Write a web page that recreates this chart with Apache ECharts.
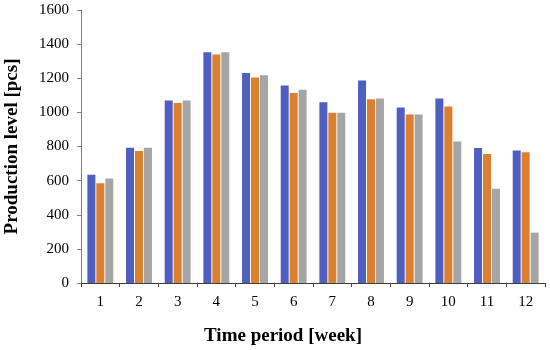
<!DOCTYPE html>
<html><head><meta charset="utf-8">
<script src="https://cdn.jsdelivr.net/npm/echarts@6/dist/echarts.min.js"></script>
<style>html,body{margin:0;padding:0;background:#fff}#c{width:550px;height:350px}</style>
</head><body><div id="c"></div>
<script>
const weeks = ['1','2','3','4','5','6','7','8','9','10','11','12'];
const seriesA = [635, 793, 1069, 1352, 1231, 1157, 1059, 1187, 1028, 1081, 791, 776];
const seriesB = [585, 774, 1055, 1339, 1204, 1114, 998, 1077, 987, 1035, 756, 766];
const seriesC = [612, 792, 1069, 1352, 1217, 1132, 998, 1081, 987, 830, 552, 295];
const yTicks = [0, 200, 400, 600, 800, 1000, 1200, 1400, 1600];

const font = '"Liberation Serif", "Times New Roman", serif';
const chart = echarts.init(document.getElementById('c'));
const mk = (name, data, color) => ({
  name, type: 'bar', data, barWidth: 8, barGap: '12%',
  itemStyle: { color }
});
chart.setOption({
  animation: false,
  grid: { left: 81, right: 5, top: 10, bottom: 67, containLabel: false, outerBoundsMode: 'none' },
  xAxis: {
    type: 'category', data: weeks,
    name: 'Time period [week]', nameLocation: 'middle', nameGap: 44,
    nameTextStyle: { fontFamily: font, fontWeight: 'bold', fontSize: 19, color: '#000', padding: [0, 60, 0, 0] },
    axisLine: { lineStyle: { color: '#404040', width: 1 } },
    axisTick: { show: true, length: 4, lineStyle: { color: '#404040' } },
    axisLabel: { fontFamily: font, fontSize: 15, color: '#000', margin: 12 }
  },
  yAxis: {
    type: 'value', min: yTicks[0], max: yTicks[yTicks.length - 1], interval: 200,
    name: 'Production level [pcs]', nameLocation: 'middle', nameGap: 59,
    nameTextStyle: { fontFamily: font, fontWeight: 'bold', fontSize: 19, color: '#000' },
    axisLine: { show: true, lineStyle: { color: '#808080', width: 1 } },
    axisTick: { show: true, length: 4, lineStyle: { color: '#808080' } },
    splitLine: { show: false },
    axisLabel: { fontFamily: font, fontSize: 15, color: '#000', margin: 12, formatter: v => String(v) }
  },
  series: [
    mk('A', seriesA, '#4f5fc0'),
    mk('B', seriesB, '#dc8030'),
    mk('C', seriesC, '#a5a5a5')
  ]
});
</script></body></html>
